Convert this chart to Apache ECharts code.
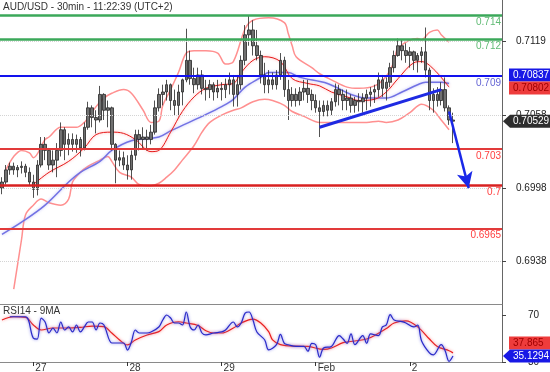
<!DOCTYPE html>
<html><head><meta charset="utf-8">
<script src="https://cdn.jsdelivr.net/npm/echarts@6/dist/echarts.min.js"></script>
<style>html,body{margin:0;padding:0;background:#fff}#c{width:550px;height:372px}</style>
</head><body><div id="c"></div>
<script>
// ---------- data (hourly bars) ----------
const openP = [
0.6998,0.7003,0.7013,0.7016,0.7013,0.7015,0.7016,0.7011,0.7003,0.6997,
0.7017,0.7034,0.7029,0.7017,0.7021,0.7029,0.7046,0.7034,0.7038,0.7034,
0.7038,0.7031,0.7048,0.7064,0.7056,0.7054,0.7075,0.7062,0.7064,0.7034,
0.7021,0.7023,0.7017,0.7013,0.7025,0.7042,0.7038,0.7040,0.7038,0.7044,
0.7064,0.7075,0.7077,0.7083,0.7070,0.7066,0.7077,0.7087,0.7103,0.7088,
0.7083,0.7091,0.7080,0.7079,0.7083,0.7077,0.7080,0.7079,0.7083,0.7087,
0.7075,0.7083,0.7103,0.7124,0.7128,0.7115,0.7107,0.7091,0.7083,0.7087,
0.7083,0.7091,0.7103,0.7079,0.7070,0.7075,0.7070,0.7077,0.7080,0.7075,
0.7070,0.7064,0.7061,0.7066,0.7062,0.7069,0.7079,0.7075,0.7070,0.7072,
0.7066,0.7070,0.7069,0.7072,0.7075,0.7077,0.7079,0.7087,0.7080,0.7085,
0.7097,0.7107,0.7115,0.7111,0.7107,0.7110,0.7103,0.7107,0.7110,0.7095,
0.7070,0.7075,0.7070,0.7079,0.7064,0.7054];
const closeP = [
0.7003,0.7013,0.7016,0.7013,0.7015,0.7016,0.7011,0.7003,0.6997,0.7017,
0.7034,0.7029,0.7017,0.7021,0.7029,0.7046,0.7034,0.7038,0.7034,0.7038,
0.7031,0.7048,0.7064,0.7056,0.7054,0.7075,0.7062,0.7064,0.7034,0.7021,
0.7023,0.7017,0.7013,0.7025,0.7042,0.7038,0.7040,0.7038,0.7044,0.7064,
0.7075,0.7077,0.7083,0.7070,0.7066,0.7077,0.7087,0.7103,0.7088,0.7083,
0.7091,0.7080,0.7079,0.7083,0.7077,0.7080,0.7079,0.7083,0.7087,0.7075,
0.7083,0.7103,0.7124,0.7128,0.7115,0.7107,0.7091,0.7083,0.7087,0.7083,
0.7091,0.7103,0.7079,0.7070,0.7075,0.7070,0.7077,0.7080,0.7075,0.7070,
0.7064,0.7061,0.7066,0.7062,0.7069,0.7079,0.7075,0.7070,0.7072,0.7066,
0.7070,0.7069,0.7072,0.7075,0.7077,0.7079,0.7087,0.7080,0.7085,0.7097,
0.7107,0.7115,0.7111,0.7107,0.7110,0.7103,0.7107,0.7110,0.7095,0.7070,
0.7075,0.7070,0.7079,0.7064,0.7054,0.7053];
const lowP = [
0.6993,0.7001,0.7009,0.7009,0.7007,0.7010,0.7007,0.7000,0.6990,0.6992,
0.7015,0.7021,0.7013,0.7011,0.7007,0.7024,0.7021,0.7025,0.7028,0.7027,
0.7024,0.7029,0.7046,0.7048,0.7043,0.7052,0.7054,0.7048,0.7029,0.7002,
0.7016,0.7013,0.7005,0.7005,0.7021,0.7029,0.7031,0.7029,0.7034,0.7042,
0.7061,0.7066,0.7070,0.7062,0.7058,0.7057,0.7066,0.7085,0.7083,0.7076,
0.7079,0.7075,0.7070,0.7072,0.7070,0.7072,0.7070,0.7072,0.7075,0.7065,
0.7065,0.7079,0.7099,0.7115,0.7107,0.7103,0.7084,0.7076,0.7076,0.7079,
0.7079,0.7087,0.7073,0.7054,0.7065,0.7065,0.7066,0.7070,0.7068,0.7062,
0.7060,0.7040,0.7057,0.7057,0.7058,0.7065,0.7066,0.7062,0.7062,0.7060,
0.7060,0.7061,0.7060,0.7062,0.7065,0.7068,0.7073,0.7073,0.7070,0.7081,
0.7093,0.7106,0.7103,0.7101,0.7097,0.7095,0.7093,0.7101,0.7089,0.7062,
0.7060,0.7065,0.7066,0.7061,0.7050,0.7035];
const highP = [
0.7007,0.7017,0.7019,0.7019,0.7017,0.7020,0.7018,0.7015,0.7009,0.7021,
0.7040,0.7040,0.7031,0.7029,0.7035,0.7052,0.7048,0.7043,0.7043,0.7042,
0.7040,0.7052,0.7069,0.7066,0.7062,0.7082,0.7076,0.7070,0.7065,0.7035,
0.7029,0.7028,0.7025,0.7029,0.7046,0.7046,0.7048,0.7046,0.7050,0.7070,
0.7080,0.7083,0.7087,0.7084,0.7079,0.7083,0.7088,0.7129,0.7111,0.7097,
0.7097,0.7095,0.7087,0.7087,0.7085,0.7087,0.7085,0.7088,0.7093,0.7091,
0.7091,0.7107,0.7132,0.7140,0.7136,0.7128,0.7111,0.7101,0.7095,0.7093,
0.7095,0.7109,0.7106,0.7087,0.7081,0.7080,0.7081,0.7087,0.7087,0.7079,
0.7075,0.7070,0.7070,0.7070,0.7072,0.7084,0.7083,0.7079,0.7079,0.7075,
0.7073,0.7076,0.7076,0.7079,0.7081,0.7083,0.7093,0.7091,0.7089,0.7101,
0.7111,0.7121,0.7120,0.7117,0.7114,0.7111,0.7109,0.7114,0.7130,0.7097,
0.7080,0.7081,0.7085,0.7089,0.7066,0.7060];

// overlays: [barIndex, value]
const bbUpper = [[1,0.7013],[3,0.7024],[5,0.7029],[7,0.7027],[8,0.7023],[11,0.7038],[12,0.7040],[15,0.7048],[19,0.7048],[21,0.7052],[22,0.7056],[24,0.7065],[26,0.7072],[28,0.7076],[31,0.7079],[33,0.7076],[36,0.7062],[38,0.7052],[40,0.7053],[41,0.7066],[43,0.7079],[45,0.7093],[47,0.7109],[49,0.7111],[52,0.7111],[55,0.7109],[57,0.7100],[59,0.7102],[62,0.7129],[64,0.7136],[68,0.7138],[72,0.7134],[73,0.7125],[74,0.7115],[75,0.7106],[79,0.7097],[81,0.7092],[84,0.7087],[88,0.7081],[91,0.7080],[95,0.7082],[98,0.7090],[100,0.7102],[101,0.7113],[106,0.7121],[107,0.7120],[109,0.7126],[111,0.7128],[112,0.7124],[114,0.7118]];
const bbMiddle = [[8,0.7001],[12,0.7011],[17,0.7020],[21,0.7031],[24,0.7042],[28,0.7044],[31,0.7043],[34,0.7038],[38,0.7028],[40,0.7029],[43,0.7044],[46,0.7061],[49,0.7073],[52,0.7080],[56,0.7083],[59,0.7084],[61,0.7093],[64,0.7103],[67,0.7106],[71,0.7102],[74,0.7088],[78,0.7084],[81,0.7082],[84,0.7077],[88,0.7073],[91,0.7070],[95,0.7071],[98,0.7077],[101,0.7088],[105,0.7101],[107,0.7102],[110,0.7096],[114,0.7081]];
const bbLower = [[3,0.6915],[5,0.6956],[6,0.6976],[8,0.6984],[10,0.6989],[12,0.6986],[15,0.6984],[17,0.6989],[18,0.7003],[20,0.7011],[22,0.7016],[25,0.7021],[27,0.7024],[28,0.7020],[30,0.7011],[33,0.7007],[35,0.7001],[38,0.7000],[40,0.7002],[42,0.7007],[44,0.7013],[46,0.7021],[49,0.7033],[51,0.7044],[53,0.7052],[56,0.7058],[59,0.7062],[61,0.7064],[64,0.7069],[67,0.7071],[69,0.7070],[72,0.7066],[74,0.7061],[77,0.7057],[81,0.7052],[85,0.7052],[89,0.7052],[93,0.7052],[96,0.7053],[98,0.7052],[101,0.7054],[104,0.7060],[107,0.7067],[110,0.7062],[112,0.7054],[114,0.7046]];
const maBlue = [[0,0.6960],[5,0.6970],[11,0.6984],[17,0.7003],[20,0.7011],[25,0.7020],[28,0.7029],[33,0.7037],[40,0.7040],[43,0.7045],[47,0.7051],[51,0.7057],[56,0.7065],[59,0.7071],[62,0.7081],[66,0.7089],[68,0.7093],[73,0.7093],[76,0.7089],[83,0.7084],[89,0.7075],[93,0.7072],[98,0.7072],[102,0.7077],[106,0.7083],[108,0.7085],[112,0.7085],[114,0.7084]];

const rsi = [[2,69],[6,69],[8,50.6],[9,49.8],[10,67.9],[11,64.5],[12,55],[13,59.3],[14,55],[15,64.5],[16,57.6],[17,60.2],[18,55.9],[19,61.9],[20,55.9],[21,60.2],[22,64.5],[23,64.5],[24,57.6],[25,63.6],[26,61.9],[28,46.4],[29,46.4],[31,46.4],[32,40.3],[33,47.2],[34,57.6],[35,55],[37,55],[38,55.9],[40,60.2],[41,66.2],[42,70.5],[43,67.9],[44,63.6],[45,63.6],[46,61.9],[47,73.1],[48,60.2],[49,57.6],[50,61.9],[51,55],[52,53.3],[54,55],[56,55.9],[57,57.6],[59,64.5],[60,60.2],[61,63.6],[62,72.2],[63,73.1],[64,66.2],[65,55.9],[67,49],[68,40.5],[70,45],[71,53.8],[72,46.1],[73,44.9],[75,43.4],[77,43.4],[78,39.3],[79,46.1],[80,44.9],[81,34.1],[82,42.1],[84,43.4],[86,52.8],[87,49.8],[88,46.1],[89,54.2],[90,44.9],[92,52.8],[93,46.1],[94,54.2],[96,52.8],[97,60.2],[98,62],[99,70.9],[100,66.2],[102,64.8],[103,63.6],[105,60.2],[106,61.9],[107,48.1],[109,37.8],[110,36.1],[112,44.9],[113,39.7],[114,30.5],[115,35.13]];
const rsiMA = [[0,66.2],[3,69],[6,68.5],[8,61.9],[10,57.6],[13,59.3],[17,59.3],[20,59.9],[23,61],[26,60.5],[28,55],[30,49],[32,44.7],[34,49],[37,53.3],[40,56.2],[42,61.9],[45,64.7],[47,63.6],[50,61.5],[52,57],[54,55],[56,55],[59,59.3],[61,63.6],[64,67],[66,63.6],[68,56.2],[69,49],[71,45],[75,43.6],[78,43.4],[82,40.8],[84,42.1],[87,46.7],[90,48.1],[93,49.8],[95,52.8],[98,58.8],[100,63.6],[103,65.4],[106,60.3],[109,49.8],[111,43.4],[114,39.7],[115,37.87]];

const levelValues = [0.714, 0.712, 0.709, 0.703, 0.7, 0.6965];
const levelLabels = ['0.714', '0.712', '0.709', '0.703', '0.7', '0.6965'];
const trendLine = [[81, 0.7048], [112, 0.7079]];
const arrowLine = [[114, 0.7061], [119, 0.6998]];
const priceTicks = [0.6938, 0.6998, 0.7058, 0.7119];
const rsiTicks = [30, 70];
const dayLabels = ['27', '28', '29', 'Feb', '2'];
const dayStart = [8, 32, 56, 80, 104];
const lastPrice = 0.70529, maLast = 0.70837, midLast = 0.70802;
const rsiLast = 35.1294, rsiMALast = 37.865;
const nCats = 128;

// ---------- chart ----------
const FONT = '"Liberation Sans", Arial, sans-serif';
const cats = Array.from({length: nCats}, (_, i) => String(i));
const isDay = (i) => dayStart.indexOf(i) >= 0;
const chart = echarts.init(document.getElementById('c'), null, {renderer: 'canvas'});

const levelColors = ['#3ba85a', '#3ba85a', '#1212ee', '#e23a3a', '#d82020', '#e23a3a'];
const levelLabelColors = ['#62bb76', '#62bb76', '#6464d4', '#ff4040', '#ff4040', '#ff4040'];
const levelWidths = [2.5, 2.5, 2, 2, 2.5, 2];

function line(data, color, width, gi, shadow) {
  return {
    type: 'line', xAxisIndex: gi, yAxisIndex: gi, data: data, symbol: 'none', smooth: 0.35,
    z: 2, silent: true,
    lineStyle: Object.assign({color: color, width: width}, shadow ? {shadowColor: shadow, shadowBlur: 3} : {})
  };
}

const option = {
  animation: false,
  backgroundColor: '#ffffff',
  textStyle: {fontFamily: FONT},
  title: [
    {text: 'AUD/USD - 30min - 11:22:39 (UTC+2)', left: 3, top: 2, padding: 0,
     textStyle: {fontSize: 10, fontWeight: 'normal', color: '#333', fontFamily: FONT}},
    {text: 'RSI14 - 9MA', left: 3, top: 306, padding: 0,
     textStyle: {fontSize: 10, fontWeight: 'normal', color: '#333', fontFamily: FONT}}
  ],
  grid: [
    {left: 0, top: 0, width: 502, height: 304, containLabel: false, outerBoundsMode: 'none'},
    {left: 0, top: 304, width: 502, height: 58, containLabel: false, outerBoundsMode: 'none'}
  ],
  xAxis: [
    {type: 'category', gridIndex: 0, data: cats, boundaryGap: true,
     axisLine: {show: true, lineStyle: {color: '#8a8a8a', width: 1}},
     axisTick: {show: false}, axisLabel: {show: false}, splitLine: {show: false}},
    {type: 'category', gridIndex: 1, data: cats, boundaryGap: true,
     axisLine: {show: true, lineStyle: {color: '#8a8a8a', width: 1}},
     axisTick: {show: true, alignWithLabel: true, interval: (i) => isDay(i), length: 4, lineStyle: {color: '#333'}},
     axisLabel: {show: true, interval: (i) => isDay(i), formatter: (v, i) => dayLabels[dayStart.indexOf(i)],
                 align: 'left', margin: 1, padding: [0, 0, 0, 2], fontSize: 10, color: '#333', fontFamily: FONT},
     splitLine: {show: false}}
  ],
  yAxis: [
    {type: 'value', gridIndex: 0, position: 'right', min: 0.69028, max: 0.71526, scale: true,
     axisLine: {show: true, lineStyle: {color: '#666', width: 1}},
     axisTick: {show: true, customValues: priceTicks, length: 4, lineStyle: {color: '#444'}},
     axisLabel: {show: true, customValues: priceTicks, formatter: (v) => v.toFixed(4), margin: 14,
                 fontSize: 10, color: '#222', fontFamily: FONT},
     splitLine: {show: false}},
    {type: 'value', gridIndex: 1, position: 'right', min: 30, max: 80,
     axisLine: {show: true, lineStyle: {color: '#666', width: 1}},
     axisTick: {show: true, customValues: rsiTicks, length: 4, lineStyle: {color: '#444'}},
     axisLabel: {show: true, customValues: rsiTicks, formatter: (v) => String(Math.round(v)), margin: 26,
                 fontSize: 10, color: '#222', fontFamily: FONT},
     splitLine: {show: false}}
  ],
  series: [
    // faint dotted price grid
    {type: 'line', xAxisIndex: 0, yAxisIndex: 0, data: [], z: 1, silent: true,
     markLine: {silent: true, animation: false, precision: 5, symbol: ['none', 'none'], label: {show: false},
                lineStyle: {color: '#d4d4d4', type: 'dotted', width: 1},
                data: priceTicks.map((v) => ({yAxis: v}))}},
    line(bbUpper, '#ff9090', 1.5, 0),
    line(bbLower, '#ff9090', 1.5, 0),
    line(maBlue, '#7272e4', 1.5, 0, 'rgba(150,150,240,0.6)'),
    line(bbMiddle, '#e61a1a', 1, 0, 'rgba(255,130,130,0.8)'),
    {
      type: 'candlestick', xAxisIndex: 0, yAxisIndex: 0, z: 3, silent: true,
      data: openP.map((o, i) => [o, closeP[i], lowP[i], highP[i]]),
      barWidth: 3,
      itemStyle: {color: '#707070', color0: '#707070', borderColor: '#262626', borderColor0: '#262626', borderWidth: 0.8}
    },
    // support / resistance levels, trend line and projection arrow
    {type: 'line', xAxisIndex: 0, yAxisIndex: 0, data: [], z: 4, silent: true,
     markLine: {
       silent: true, animation: false, precision: 5, symbol: ['none', 'none'],
       data: levelValues.map((v, i) => ({
         yAxis: v,
         lineStyle: {color: levelColors[i], width: levelWidths[i], type: 'solid'},
         label: {show: true, position: 'insideEndBottom', formatter: levelLabels[i], color: levelLabelColors[i],
                 fontSize: 10, fontFamily: FONT, distance: [1, 2]}
       })).concat([
         [{coord: trendLine[0], symbol: 'none', lineStyle: {color: '#1e2ae2', width: 3, type: 'solid'}, label: {show: false}},
          {coord: trendLine[1], symbol: 'none'}],
         [{coord: arrowLine[0], symbol: 'none', lineStyle: {color: '#1a28e8', width: 2.5, type: 'solid'}, label: {show: false}},
          {coord: arrowLine[1], symbol: 'arrow', symbolSize: [12, 16]}]
       ])
     }},
    line(rsiMA, '#e82020', 1.2, 1, 'rgba(255,120,120,0.9)'),
    line(rsi, '#2a2ac8', 1.2, 1, 'rgba(110,110,230,0.9)')
  ]
};
chart.setOption(option);

function makeBox(cy, text, bg, fg, arrow) {
  const h = 13, x0 = arrow ? 503 : 509;
  const pts = arrow
    ? [[x0, cy], [x0 + 7, cy - h / 2], [552, cy - h / 2], [552, cy + h / 2], [x0 + 7, cy + h / 2]]
    : [[x0, cy - h / 2], [552, cy - h / 2], [552, cy + h / 2], [x0, cy + h / 2]];
  return [
    {type: 'polygon', shape: {points: pts}, style: {fill: bg}, z: 100},
    {type: 'text', x: 513, y: cy, z: 101,
     style: {text: text, fill: fg, font: '10px ' + FONT, verticalAlign: 'middle', textAlign: 'left'}}
  ];
}
const py0 = (v) => chart.convertToPixel({yAxisIndex: 0}, v);
const py1 = (v) => chart.convertToPixel({yAxisIndex: 1}, v);
const redY = py0(midLast);
const blueY = Math.min(py0(maLast), redY - 13);
const rsiBlueY = py1(rsiLast);
const rsiRedY = Math.min(py1(rsiMALast), rsiBlueY - 13);
chart.setOption({
  graphic: [].concat(
    makeBox(blueY, maLast.toFixed(5), '#1818e6', '#ffffff', false),
    makeBox(redY, midLast.toFixed(5), '#ee3c3c', '#a00000', false),
    makeBox(py0(lastPrice), lastPrice.toFixed(5), '#2e2e2e', '#ffffff', true),
    makeBox(rsiRedY, rsiMALast.toFixed(3), '#ee3c3c', '#a00000', false),
    makeBox(rsiBlueY, rsiLast.toFixed(4), '#1818e6', '#ffffff', true)
  )
});
</script>
</body></html>
